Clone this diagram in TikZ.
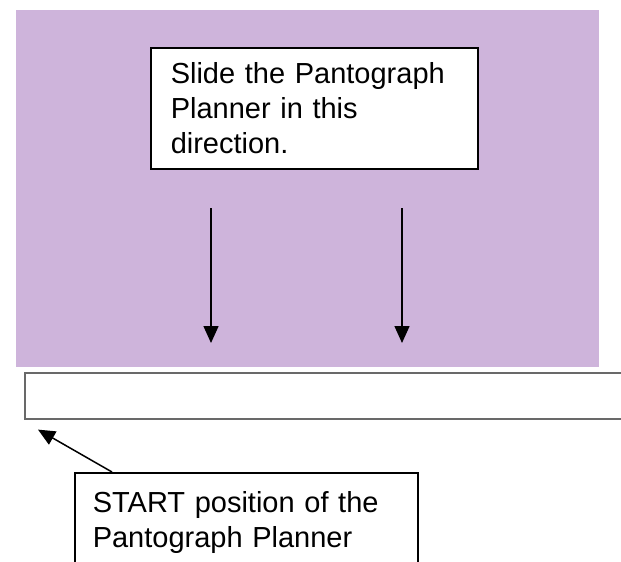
\documentclass[tikz,border=0pt]{standalone}
\usepackage{fontspec}
\setmainfont{Liberation Sans}
\usetikzlibrary{arrows.meta,calc}
\definecolor{lilac}{RGB}{206,180,219}
\definecolor{bargray}{RGB}{105,105,105}
\tikzset{
  labelbox/.style={draw=black, line width=1.5pt, fill=white, anchor=north west,
    align=left, font=\fontsize{29}{35}\selectfont, inner ysep=15pt},
  downarrow/.style={line width=1.5pt, -{Triangle[width=15pt,length=17pt]}},
  barstyle/.style={draw=bargray, line width=1.6pt, fill=white}
}
\begin{document}
\begin{tikzpicture}[x=1pt,y=-1pt]
\useasboundingbox (0,0) rectangle (621,562);
\clip (0,0) rectangle (621,562);
% purple sheet
\fill[lilac] (16,10) rectangle (599,367);
% white bar (start position)
\node[barstyle, anchor=north west, minimum width=620pt, minimum height=46pt, inner sep=0pt] (bar) at (24,372) {};
% top label
\node[labelbox, text width=287pt, inner xsep=20pt] (dirbox) at (150,47)
  {Slide the Pantograph\\Planner in this\\direction.};
% arrows down
\coordinate (a1s) at (211,208);
\coordinate (a1e) at (211,343);
\coordinate (a2s) at (402,208);
\coordinate (a2e) at (402,343);
\draw[downarrow] (a1s) -- (a1e);
\draw[downarrow] (a2s) -- (a2e);
% bottom label
\node[labelbox, text width=307pt, inner xsep=18pt, inner ysep=19pt] (startbox) at (74,472)
  {START position of the\\Pantograph Planner};
\coordinate (tip) at ($(bar.south west)+(14,10)$);
\draw[downarrow] ($(startbox.north west)+(38,0)$) -- (tip);
\end{tikzpicture}
\end{document}
